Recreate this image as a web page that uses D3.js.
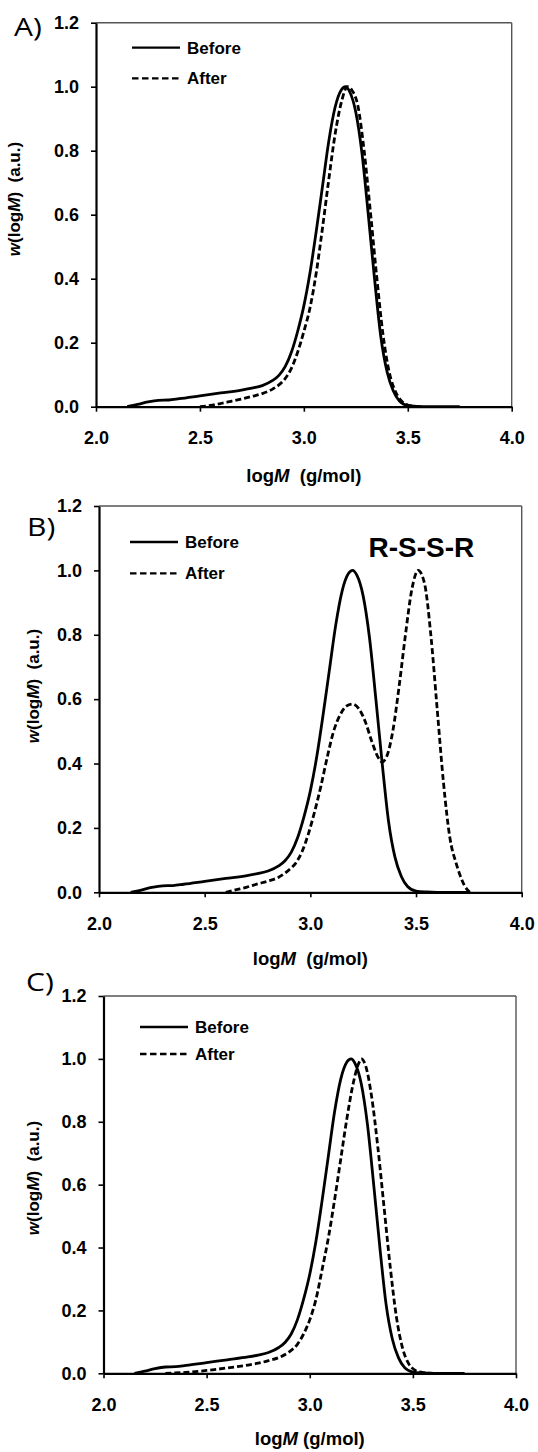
<!DOCTYPE html>
<html><head><meta charset="utf-8">
<script src="https://cdn.jsdelivr.net/npm/d3@7"></script>
<style>
html,body{margin:0;padding:0;background:#fff;}
svg{display:block;}
</style></head>
<body>
<svg id="chart" width="538" height="1452"></svg>
<script>
// ---------- DATA ----------
const xTicks = [2.0, 2.5, 3.0, 3.5, 4.0];
const yTicks = [0.0, 0.2, 0.4, 0.6, 0.8, 1.0, 1.2];
const seriesNames = ["Before", "After"];
const panelLetters = ["A)", "B)", "C)"];

const beforeLogM = [2.15,2.2,2.25,2.3,2.35,2.4,2.5,2.6,2.7,2.75,2.8,2.85,2.88,2.91,2.94,2.97,3.0,3.03,3.06,3.09,3.12,3.15,3.18,3.2,3.22,3.25,3.28,3.31,3.34,3.37,3.4,3.43,3.46,3.5,3.55,3.6,3.75];
const beforeW    = [0,0.007,0.015,0.02,0.021,0.025,0.034,0.043,0.052,0.058,0.066,0.082,0.098,0.125,0.17,0.235,0.315,0.42,0.55,0.69,0.83,0.935,0.99,1.0,0.985,0.92,0.79,0.6,0.4,0.22,0.11,0.05,0.018,0.004,0.001,0,0];

const afterA_LogM = [2.5,2.55,2.6,2.65,2.7,2.75,2.8,2.85,2.88,2.91,2.94,2.97,3.0,3.03,3.06,3.09,3.12,3.15,3.18,3.21,3.23,3.26,3.29,3.32,3.35,3.38,3.41,3.44,3.47,3.5,3.55];
const afterA_W    = [0,0.004,0.01,0.017,0.024,0.032,0.041,0.055,0.068,0.088,0.12,0.17,0.235,0.31,0.42,0.56,0.71,0.85,0.95,1.0,0.99,0.94,0.8,0.61,0.41,0.23,0.11,0.048,0.018,0.005,0];

const afterB_LogM = [2.6,2.65,2.7,2.75,2.8,2.85,2.9,2.93,2.96,2.99,3.02,3.05,3.08,3.11,3.14,3.17,3.2,3.23,3.26,3.29,3.32,3.34,3.36,3.39,3.42,3.45,3.48,3.51,3.54,3.57,3.6,3.63,3.66,3.69,3.71,3.73,3.755];
const afterB_W    = [0,0.008,0.016,0.026,0.035,0.047,0.07,0.09,0.125,0.18,0.25,0.33,0.42,0.5,0.55,0.578,0.585,0.57,0.53,0.47,0.42,0.405,0.42,0.5,0.64,0.8,0.94,1.0,0.96,0.8,0.57,0.34,0.17,0.09,0.05,0.02,0];

const afterC_LogM = [2.3,2.4,2.5,2.6,2.7,2.75,2.8,2.85,2.9,2.94,2.97,3.0,3.03,3.06,3.09,3.12,3.15,3.18,3.21,3.24,3.25,3.27,3.3,3.33,3.36,3.39,3.42,3.45,3.48,3.51,3.55,3.6,3.75];
const afterC_W    = [0,0.003,0.009,0.017,0.026,0.032,0.04,0.05,0.068,0.092,0.125,0.17,0.235,0.33,0.43,0.55,0.68,0.81,0.92,0.99,1.0,0.98,0.88,0.72,0.53,0.34,0.18,0.08,0.03,0.01,0.002,0,0];

const annotationB = "R-S-S-R";

// ---------- LAYOUT ----------
const zip = (xs, ys) => xs.map((x, i) => ({x, y: ys[i]}));
const panels = [
  {letter: panelLetters[0], x0: 96,  x1: 511.7, yT: 22.7, yB: 406.7,
   before: zip(beforeLogM, beforeW), after: zip(afterA_LogM, afterA_W),
   letterPos: [14, 36], legX: 132, legY: [47.7, 78.3],
   yTitle: [14, 199], xTitleY: 475, xTitleSpace: "\u00a0 "},
  {letter: panelLetters[1], x0: 99,  x1: 521.7, yT: 506, yB: 892.3,
   before: zip(beforeLogM, beforeW), after: zip(afterB_LogM, afterB_W),
   letterPos: [27, 536], legX: 130, legY: [542, 573.3],
   yTitle: [33, 686], xTitleY: 958, xTitleSpace: "\u00a0 ", annot: true},
  {letter: panelLetters[2], x0: 103.5, x1: 516, yT: 996, yB: 1373.3,
   before: zip(beforeLogM, beforeW), after: zip(afterC_LogM, afterC_W),
   letterPos: [26, 991], legX: 140, legY: [1027, 1054],
   yTitle: [33, 1178], xTitleY: 1438, xTitleSpace: " "}
];

const svg = d3.select("#chart");
const FONT = "'Liberation Sans', Arial, Helvetica, sans-serif";

panels.forEach(p => {
  const x = d3.scaleLinear().domain([2.0, 4.0]).range([p.x0, p.x1]);
  const y = d3.scaleLinear().domain([0, 1.2]).range([p.yB, p.yT]);
  const g = svg.append("g");

  // frame top/right (thin gray)
  g.append("line").attr("x1", x(2)).attr("x2", x(4)).attr("y1", y(1.2)).attr("y2", y(1.2))
    .attr("stroke", "#555").attr("stroke-width", 1.4);
  g.append("line").attr("x1", x(4)).attr("x2", x(4)).attr("y1", y(1.2)).attr("y2", y(0))
    .attr("stroke", "#555").attr("stroke-width", 1.4);

  // curves
  const line = d3.line().x(d => x(d.x)).y(d => y(d.y)).curve(d3.curveMonotoneX);
  g.append("path").datum(p.before).attr("d", line)
    .attr("fill", "none").attr("stroke", "#000").attr("stroke-width", 2.8)
    .attr("stroke-linejoin", "round");
  g.append("path").datum(p.after).attr("d", line)
    .attr("fill", "none").attr("stroke", "#000").attr("stroke-width", 2.8)
    .attr("stroke-dasharray", "6,3");

  // axes
  const xAxis = d3.axisBottom(x).tickValues(xTicks).tickFormat(d3.format(".1f"))
    .tickSizeInner(5).tickSizeOuter(0).tickPadding(20);
  const yAxis = d3.axisLeft(y).tickValues(yTicks).tickFormat(d3.format(".1f"))
    .tickSizeInner(5).tickSizeOuter(0).tickPadding(12);
  const gx = g.append("g").attr("transform", `translate(0,${p.yB})`).call(xAxis);
  const gy = g.append("g").attr("transform", `translate(${p.x0},0)`).call(yAxis);
  [gx, gy].forEach(a => {
    a.select(".domain").attr("stroke", "#000").attr("stroke-width", 2.2);
    a.selectAll(".tick line").attr("stroke", "#000").attr("stroke-width", 1.6);
    a.selectAll(".tick text").attr("fill", "#000")
      .style("font-family", FONT).style("font-weight", "bold").style("font-size", "18px");
  });

  // x title
  const xt = g.append("text").attr("x", (p.x0 + p.x1) / 2).attr("y", p.xTitleY)
    .attr("text-anchor", "middle").attr("dominant-baseline", "central")
    .style("font-family", FONT).style("font-weight", "bold").style("font-size", "18.5px");
  xt.append("tspan").text("log");
  xt.append("tspan").attr("font-style", "italic").text("M");
  xt.append("tspan").text(p.xTitleSpace + "(g/mol)");

  // y title
  const yt = g.append("text")
    .attr("transform", `translate(${p.yTitle[0]},${p.yTitle[1]}) rotate(-90)`)
    .attr("text-anchor", "middle").attr("dominant-baseline", "central")
    .style("font-family", FONT).style("font-weight", "bold").style("font-size", "17px");
  yt.append("tspan").attr("font-style", "italic").text("w");
  yt.append("tspan").text("(log");
  yt.append("tspan").attr("font-style", "italic").text("M");
  yt.append("tspan").text(")\u00a0 (a.u.)");

  // panel letter
  g.append("text")
    .attr("transform", `translate(${p.letterPos[0]},${p.letterPos[1]}) scale(1.2,1)`)
    .style("font-family", "'Open Sans', 'Noto Sans', sans-serif").style("font-size", "25px")
    .text(p.letter);

  // legend
  seriesNames.forEach((name, i) => {
    const ly = p.legY[i];
    g.append("line").attr("x1", p.legX).attr("x2", p.legX + 48).attr("y1", ly).attr("y2", ly)
      .attr("stroke", "#000").attr("stroke-width", 2.3)
      .attr("stroke-dasharray", i === 1 ? "6.5,3.5" : null);
    g.append("text").attr("x", p.legX + 55).attr("y", ly).attr("dy", "0.36em")
      .style("font-family", FONT).style("font-weight", "bold").style("font-size", "17px")
      .text(name);
  });

  if (p.annot) {
    g.append("text").attr("x", 368.5).attr("y", 557)
      .style("font-family", FONT).style("font-weight", "bold").style("font-size", "28px")
      .text(annotationB);
  }
});
</script>
</body></html>
